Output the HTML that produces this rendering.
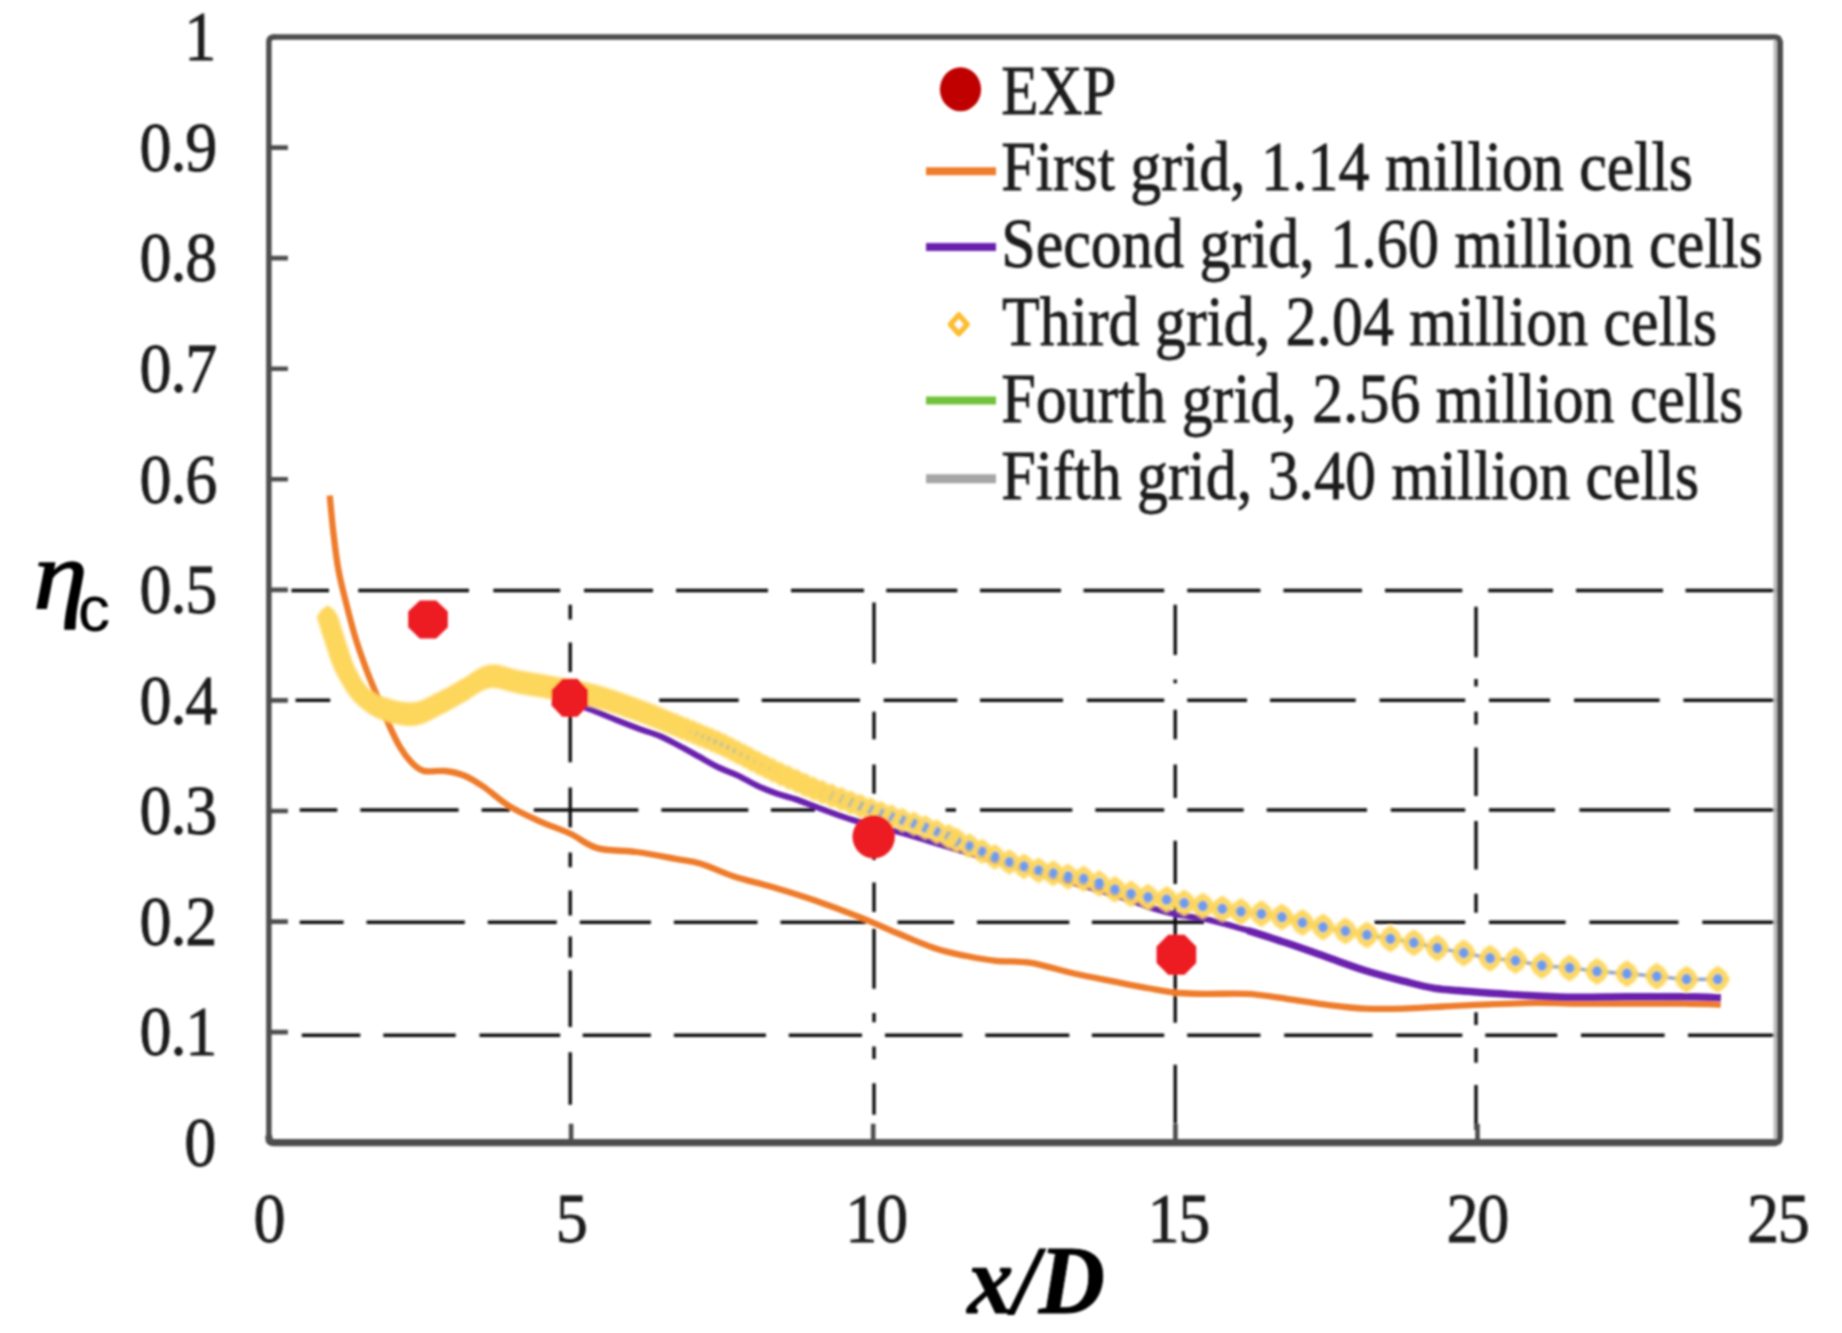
<!DOCTYPE html>
<html lang="en"><head><meta charset="utf-8"><title>Grid independence: cooling effectiveness</title>
<style>html,body{margin:0;padding:0;background:#fff}body{width:1842px;height:1333px;overflow:hidden}svg{display:block}text{font-family:"Liberation Serif","Times New Roman",serif;fill:#1c1c1c}.sans{font-family:"Liberation Sans",Arial,sans-serif}</style></head><body>
<svg width="1842" height="1333" viewBox="0 0 1842 1333">
<defs><filter id="soft" x="0" y="0" width="100%" height="100%" filterUnits="objectBoundingBox"><feGaussianBlur stdDeviation="1.25"/></filter><filter id="softer" x="-2%" y="-5%" width="104%" height="110%"><feGaussianBlur stdDeviation="1.3"/></filter></defs>
<rect width="1842" height="1333" fill="#fff"/>
<g filter="url(#soft)">
<g stroke="#0e0e0e" stroke-width="3.4" fill="none">
<path d="M291.4 590.5H329M358.2 590.5H469M493.3 590.5H560.2M584 590.5H653M676 590.5H768M791 590.5H864M886.2 590.5H957.3M980 590.5H1061M1083.5 590.5H1164.2M1187.2 590.5H1260.4M1283.4 590.5H1362M1385 590.5H1462.3M1488.2 590.5H1553M1576 590.5H1663M1685.5 590.5H1778"/>
<path d="M295.5 700.3H330.2M659.2 700.3H738.7M761.7 700.3H860M883.7 700.3H957.3M980 700.3H1063M1086.9 700.3H1164.2M1187.2 700.3H1247M1270 700.3H1355.7M1379.5 700.3H1465.2M1489 700.3H1550M1574 700.3H1659.6M1683.4 700.3H1778"/>
<path d="M299.7 810H337.3M360.3 810H458.6M481.6 810H510M533.8 810H638.3M661.3 810H748.3M770.9 810H815M945.6 810H956M980 810H1072.3M1095.3 810H1164.2M1187.2 810H1243.7M1266.7 810H1367M1390.8 810H1465.2M1489 810H1555M1579.4 810H1670M1694 810H1778"/>
<path d="M299.7 922.3H343.6M366.6 922.3H464.8M487.8 922.3H556.8M579.8 922.3H650.9M673.9 922.3H757.5M780.5 922.3H866M897.5 922.3H954M977 922.3H1069.3M1091.9 922.3H1204M1374.5 922.3H1465.2M1489 922.3H1565.6M1589.4 922.3H1678.4M1702.3 922.3H1778"/>
<path d="M301.8 1035.2H360.3M383.3 1035.2H455.7M479.5 1035.2H560.2M582.7 1035.2H650.9M673.9 1035.2H765.9M788.8 1035.2H862M885 1035.2H962.3M985.3 1035.2H1069.3M1091.9 1035.2H1164.2M1187.2 1035.2H1260.4M1284.2 1035.2H1372.4M1396.3 1035.2H1462.3M1485.3 1035.2H1557.2M1581 1035.2H1664.6M1688 1035.2H1778"/>
<path d="M570.2 604.7V619.4M570.2 642.5V672M570.2 700V762.3M570.2 787.5V827.4M570.2 852.6V867.3M570.2 890.4V915.6M570.2 936.6V957.6M570.2 970.3V1027M570.2 1052.2V1104.7"/>
<path d="M874 602.6V663.5M874 711.8V739.2M874 764.4V793.8M874 830V860M874 882.6V912M874 928.8V988.7M874 1012.9V1022.3M874 1046.5V1059M874 1083.2V1114.7"/>
<path d="M1175.2 604.7V655.1M1175.2 679.5V683.3M1175.2 709.7V739.2M1175.2 764.4V798M1175.2 840.8V884.1M1175.2 905V1022.8M1175.2 1064.8V1123.6"/>
<path d="M1476 606.8V657.2M1476 679V686.6M1476 711.8V724.5M1476 747.6V795.9M1476 821V869.4M1476 893.8V912.7M1476 1012.3V1024.9M1476 1048V1062.7M1476 1085V1130"/>
</g>
<g stroke="#4e4e4e" fill="none" stroke-linecap="round">
<path d="M1775.2 40V1139.7" stroke="#bcbcbc" stroke-width="3.4" stroke-linecap="butt"/>
<path d="M268.9 1137.7V42Q268.9 37 273.9 37" stroke-width="5.4"/>
<path d="M273.9 37H1774.7Q1779.7 37 1779.7 42" stroke-width="5.4"/>
<path d="M1780 42V1137.7Q1779.7 1142.7 1774.7 1142.7" stroke-width="6"/>
<path d="M1774.7 1142.7H273.9Q268.9 1142.7 268.9 1137.7" stroke-width="7.2"/>
<path d="M268.9 1032.1H287.9M268.9 921.6H287.9M268.9 811H287.9M268.9 700.4H287.9M268.9 589.9H287.9M268.9 479.3H287.9M268.9 368.7H287.9M268.9 258.1H287.9M268.9 147.6H287.9M571.1 1142.7V1123.7M873.2 1142.7V1123.7M1175.4 1142.7V1123.7M1477.5 1142.7V1123.7" stroke-width="4.6" stroke-linecap="butt"/>
</g>
<g fill="none" stroke-linecap="butt" stroke-linejoin="round">
<path d="M329.7 495.5C330.3 501.6 331.9 519.6 333.3 531.9C334.7 544.2 336.2 557.5 338.3 569.1C340.4 580.7 342.8 589.8 345.7 601.3C348.6 612.8 352.1 626.8 355.6 638.4C359.1 650 363.1 660.7 366.8 670.6C370.5 680.5 374.2 688.8 377.9 697.9C381.6 707 385.4 716.9 389.1 725.1C392.8 733.4 396.5 741.2 400.2 747.4C403.9 753.6 407.5 758.4 411.4 762.3C415.3 766.2 418.1 769.4 423.7 770.9C429.3 772.4 438.3 770.2 445 771C451.7 771.8 457.6 772.9 464 775.5C470.4 778.1 475.6 781.4 483.2 786.5C490.8 791.6 500.1 800.4 509.3 806.1C518.5 811.8 528.5 816.2 538.6 820.8C548.7 825.4 560.1 829 569.9 833.5C579.7 838 586.2 845 597.3 848.1C608.4 851.2 623.3 850.2 636.3 852C649.3 853.8 664.6 856.9 675.4 858.9C686.1 860.9 691 860.9 700.8 863.8C710.6 866.7 722 872.6 734 876.5C746 880.4 759.6 883.2 773.1 887.2C786.6 891.2 800.7 895.5 815 900.5C829.3 905.5 845.1 911.4 859 916.9C872.9 922.4 885.2 928.1 898.2 933.5C911.2 938.9 925.9 945.4 937.3 949.1C948.7 952.9 956.8 954 966.6 956C976.4 958 985.2 959.7 995.9 960.8C1006.6 961.9 1018 960.7 1031 962.8C1044 964.9 1060.3 970.4 1074 973.5C1087.7 976.6 1100.3 978.9 1113 981.4C1125.7 983.9 1139 986.6 1150 988.5C1161 990.4 1169.5 992.1 1179.3 993C1189.1 993.9 1197.2 993.8 1208.6 993.9C1220 994 1234.7 993.1 1247.7 993.9C1260.7 994.7 1273.8 997 1286.8 998.8C1299.8 1000.6 1312.9 1003.1 1325.9 1004.7C1338.9 1006.3 1352 1008 1365 1008.6C1378 1009.2 1391 1009 1404 1008.6C1417 1008.2 1428.9 1007.2 1443.1 1006.5C1457.3 1005.8 1473.2 1004.9 1489 1004.3C1504.8 1003.7 1521.7 1003 1538 1002.9C1554.3 1002.8 1568.9 1003.5 1586.8 1003.6C1604.7 1003.7 1629.1 1003.6 1645.4 1003.6C1661.7 1003.6 1672 1003.4 1684.5 1003.6C1697 1003.8 1714.7 1004.4 1720.7 1004.6" stroke="#ee7b2c" stroke-width="6.3"/>
<path d="M560 700C564.6 701.4 578 705 587.5 708.4C597 711.8 608 716.6 616.8 720.1C625.5 723.6 632.9 726.5 640 729.1C647.1 731.7 653.1 733.1 659.6 735.9C666.1 738.7 672.6 742.3 679.1 745.7C685.6 749.1 692.2 752.9 698.7 756.5C705.2 760.1 711.7 764 718.2 767.2C724.7 770.4 731.3 772.4 737.8 775.5C744.3 778.6 750.8 782.8 757.3 785.8C763.8 788.8 770.4 791.3 776.9 793.6C783.4 795.9 789.2 797 796.4 799.5C803.6 802 810.6 804.9 820 808.3C829.4 811.7 840 816.1 853 820C866 823.9 882.3 827.5 898 831.9C913.7 836.3 930.7 841.6 947 846.5C963.3 851.4 978 855.8 995.9 861C1013.8 866.2 1035 871.9 1054.5 877.5C1074 883.1 1096.8 889.4 1113 894.5C1129.2 899.6 1141.3 904.7 1152 908C1162.7 911.3 1167.6 912.5 1177 914.5C1186.4 916.5 1196.8 917.1 1208.6 919.7C1220.4 922.4 1234.7 926.5 1247.7 930.4C1260.7 934.3 1273.8 938.7 1286.8 943.1C1299.8 947.5 1312.9 952.2 1325.9 956.8C1338.9 961.4 1352 966.4 1365 970.5C1378 974.6 1392.6 978.3 1404 981.2C1415.4 984.1 1423.6 986.5 1433.4 988.1C1443.2 989.7 1450.1 990 1462.7 991C1475.3 992 1491.6 993.4 1509 994.4C1526.4 995.4 1547.8 996.8 1567.3 997.2C1586.8 997.6 1606.4 996.9 1625.9 996.8C1645.4 996.7 1668.7 996.6 1684.5 996.8C1700.3 997 1714.7 997.6 1720.7 997.8" stroke="#6b23ae" stroke-width="6.1"/>
<path d="M640 711C646.5 713.6 666.1 721.3 679.1 726.6C692.1 731.9 708.4 738.5 718.2 742.8C728 747.1 731.3 749.3 737.8 752.6C744.3 755.9 750.8 759.3 757.3 762.6C763.8 765.9 770.4 769.4 776.9 772.4C783.4 775.4 789.2 777.8 796.4 780.9C803.6 784 806.3 786 820 791.2C833.7 796.4 859.1 805.5 878.6 812.3C898.1 819.1 917.8 824.4 937.3 831.9C956.8 839.4 983.9 852.3 995.9 857.3C1007.9 862.3 1004.6 860.5 1009.3 862C1014 863.5 1019.1 865 1024 866.4C1028.9 867.8 1033.7 869.1 1038.6 870.3C1043.5 871.4 1048.4 872.2 1053.3 873.3C1058.2 874.4 1063 875.8 1068 876.7C1073 877.6 1078.4 877.6 1083.6 878.7C1088.8 879.8 1094 881.7 1099.2 883.5C1104.4 885.3 1109.6 887.7 1114.9 889.4C1120.2 891.1 1125.5 892.5 1131 893.8C1136.5 895.1 1142.1 896.2 1148 897.2C1153.9 898.2 1160.6 898.6 1166.6 899.6C1172.6 900.6 1178.2 902 1184.2 903.1C1190.2 904.2 1196.5 905 1202.8 906C1209.1 907 1215.9 908 1222.3 908.9C1228.7 909.8 1234.4 910.7 1240.9 911.5C1247.4 912.3 1254.6 912.9 1261.4 913.8C1268.2 914.7 1275.1 915.6 1281.9 917.1C1288.7 918.6 1295.6 920.9 1302.4 922.6C1309.2 924.3 1315.8 925.7 1323 927.1C1330.2 928.5 1338.1 929.7 1345.4 931C1352.7 932.3 1359.4 933.6 1366.9 934.9C1374.4 936.2 1382.6 937.5 1390.4 938.8C1398.2 940.1 1406 941.2 1413.8 942.7C1421.6 944.2 1429 946.3 1437.3 948C1445.6 949.7 1454.9 951.2 1463.7 952.9C1472.5 954.6 1481.5 956.9 1490.1 958.2C1498.7 959.5 1506.9 959.4 1515.5 960.6C1524.1 961.8 1532.9 964.3 1541.9 965.5C1550.9 966.7 1560.4 966.9 1569.6 967.9C1578.8 968.9 1587.5 970.4 1597 971.4C1606.5 972.4 1616.9 972.9 1626.9 973.7C1636.9 974.5 1646.9 975.4 1656.8 976.3C1666.7 977.2 1676.3 978.7 1686.5 979.2C1696.7 979.7 1712.5 979.2 1717.7 979.2" stroke="#8fa8d6" stroke-width="3.6"/>
<path d="M1247.7 930.4C1254.2 932.5 1273.8 938.7 1286.8 943.1C1299.8 947.5 1312.9 952.2 1325.9 956.8C1338.9 961.4 1352 966.4 1365 970.5C1378 974.6 1392.6 978.3 1404 981.2C1415.4 984.1 1423.6 986.5 1433.4 988.1C1443.2 989.7 1450.1 990 1462.7 991C1475.3 992 1491.6 993.4 1509 994.4C1526.4 995.4 1547.8 996.8 1567.3 997.2C1586.8 997.6 1606.4 996.9 1625.9 996.8C1645.4 996.7 1668.7 996.6 1684.5 996.8C1700.3 997 1714.7 997.6 1720.7 997.8" stroke="#6b23ae" stroke-width="7.4"/>
</g>
<g fill="#6a9af3"><ellipse cx="640" cy="711" rx="5.6" ry="5.9"/><ellipse cx="644.8" cy="712.8" rx="5.6" ry="5.9"/><ellipse cx="649.6" cy="714.6" rx="5.6" ry="5.9"/><ellipse cx="654.7" cy="716.6" rx="5.6" ry="5.9"/><ellipse cx="659.8" cy="718.7" rx="5.6" ry="5.9"/><ellipse cx="664.8" cy="720.7" rx="5.6" ry="5.9"/><ellipse cx="670.3" cy="723" rx="5.6" ry="5.9"/><ellipse cx="675.9" cy="725.3" rx="5.6" ry="5.9"/><ellipse cx="681.5" cy="727.6" rx="5.6" ry="5.9"/><ellipse cx="687.3" cy="729.9" rx="5.6" ry="5.9"/><ellipse cx="693.4" cy="732.4" rx="5.6" ry="5.9"/><ellipse cx="699.4" cy="734.9" rx="5.6" ry="5.9"/><ellipse cx="705.7" cy="737.5" rx="5.6" ry="5.9"/><ellipse cx="712" cy="740.1" rx="5.6" ry="5.9"/><ellipse cx="718.2" cy="742.8" rx="5.6" ry="5.9"/><ellipse cx="724.6" cy="745.8" rx="5.6" ry="5.9"/><ellipse cx="731" cy="749" rx="5.6" ry="5.9"/><ellipse cx="737.4" cy="752.4" rx="5.6" ry="5.9"/><ellipse cx="744.2" cy="755.8" rx="5.6" ry="5.9"/><ellipse cx="750.9" cy="759.4" rx="5.6" ry="5.9"/><ellipse cx="758.2" cy="763.1" rx="5.6" ry="5.9"/><ellipse cx="765.5" cy="766.8" rx="5.6" ry="5.9"/><ellipse cx="772.8" cy="770.4" rx="5.6" ry="5.9"/><ellipse cx="780.6" cy="774.1" rx="5.6" ry="5.9"/><ellipse cx="788.7" cy="777.6" rx="5.6" ry="5.9"/><ellipse cx="796.8" cy="781.1" rx="5.6" ry="5.9"/><ellipse cx="805.2" cy="785" rx="5.6" ry="5.9"/><ellipse cx="813.7" cy="788.7" rx="5.6" ry="5.9"/><ellipse cx="822.4" cy="792.1" rx="5.6" ry="5.9"/><ellipse cx="831.7" cy="795.6" rx="5.6" ry="5.9"/><ellipse cx="841.1" cy="799" rx="5.6" ry="5.9"/><ellipse cx="850.7" cy="802.5" rx="5.6" ry="5.9"/><ellipse cx="860.5" cy="806" rx="5.6" ry="5.9"/><ellipse cx="870.8" cy="809.6" rx="5.6" ry="5.9"/><ellipse cx="881" cy="813.1" rx="5.6" ry="5.9"/><ellipse cx="891.5" cy="816.6" rx="5.6" ry="5.9"/><ellipse cx="902.5" cy="820.1" rx="5.6" ry="5.9"/><ellipse cx="913.9" cy="823.7" rx="5.6" ry="5.9"/><ellipse cx="925.4" cy="827.6" rx="5.6" ry="5.9"/><ellipse cx="936.8" cy="831.7" rx="5.6" ry="5.9"/><ellipse cx="948.7" cy="836.5" rx="5.6" ry="5.9"/><ellipse cx="956.8" cy="840.4" rx="5.6" ry="5.9"/><ellipse cx="969.5" cy="845.9" rx="5.6" ry="5.9"/><ellipse cx="982.2" cy="851.4" rx="5.6" ry="5.9"/><ellipse cx="994.9" cy="856.9" rx="5.6" ry="5.9"/><ellipse cx="1009.3" cy="862" rx="5.6" ry="5.9"/><ellipse cx="1024" cy="866.4" rx="5.6" ry="5.9"/><ellipse cx="1038.6" cy="870.3" rx="5.6" ry="5.9"/><ellipse cx="1053.3" cy="873.3" rx="5.6" ry="5.9"/><ellipse cx="1068" cy="876.7" rx="5.6" ry="5.9"/><ellipse cx="1083.6" cy="878.7" rx="5.6" ry="5.9"/><ellipse cx="1099.2" cy="883.5" rx="5.6" ry="5.9"/><ellipse cx="1114.9" cy="889.4" rx="5.6" ry="5.9"/><ellipse cx="1131" cy="893.8" rx="5.6" ry="5.9"/><ellipse cx="1148" cy="897.2" rx="5.6" ry="5.9"/><ellipse cx="1166.6" cy="899.6" rx="5.6" ry="5.9"/><ellipse cx="1184.2" cy="903.1" rx="5.6" ry="5.9"/><ellipse cx="1202.8" cy="906" rx="5.6" ry="5.9"/><ellipse cx="1222.3" cy="908.9" rx="5.6" ry="5.9"/><ellipse cx="1240.9" cy="911.5" rx="5.6" ry="5.9"/><ellipse cx="1261.4" cy="913.8" rx="5.6" ry="5.9"/><ellipse cx="1281.9" cy="917.1" rx="5.6" ry="5.9"/><ellipse cx="1302.4" cy="922.6" rx="5.6" ry="5.9"/><ellipse cx="1323" cy="927.1" rx="5.6" ry="5.9"/><ellipse cx="1345.4" cy="931" rx="5.6" ry="5.9"/><ellipse cx="1366.9" cy="934.9" rx="5.6" ry="5.9"/><ellipse cx="1390.4" cy="938.8" rx="5.6" ry="5.9"/><ellipse cx="1413.8" cy="942.7" rx="5.6" ry="5.9"/><ellipse cx="1437.3" cy="948" rx="5.6" ry="5.9"/><ellipse cx="1463.7" cy="952.9" rx="5.6" ry="5.9"/><ellipse cx="1490.1" cy="958.2" rx="5.6" ry="5.9"/><ellipse cx="1515.5" cy="960.6" rx="5.6" ry="5.9"/><ellipse cx="1541.9" cy="965.5" rx="5.6" ry="5.9"/><ellipse cx="1569.6" cy="967.9" rx="5.6" ry="5.9"/><ellipse cx="1597" cy="971.4" rx="5.6" ry="5.9"/><ellipse cx="1626.9" cy="973.7" rx="5.6" ry="5.9"/><ellipse cx="1656.8" cy="976.3" rx="5.6" ry="5.9"/><ellipse cx="1686.5" cy="979.2" rx="5.6" ry="5.9"/><ellipse cx="1717.7" cy="979.2" rx="5.6" ry="5.9"/></g>
<path fill="#fdd65c" fill-rule="nonzero" filter="url(#softer)" d="M316.6 617.5l4.3 -7.2l6.7 -5.1l6.7 5.1l4.3 7.2l-4.3 7.2l-6.7 5.1l-6.7 -5.1zM317.5 620.3l4.3 -7.2l6.7 -5.1l6.7 5.1l4.3 7.2l-4.3 7.2l-6.7 5.1l-6.7 -5.1zM318.4 623.2l4.3 -7.2l6.7 -5.1l6.7 5.1l4.3 7.2l-4.3 7.2l-6.7 5.1l-6.7 -5.1zM319.3 626.1l4.3 -7.2l6.7 -5.1l6.7 5.1l4.3 7.2l-4.3 7.2l-6.7 5.1l-6.7 -5.1zM320.2 629.3l4.3 -7.2l6.7 -5.1l6.7 5.1l4.3 7.2l-4.3 7.2l-6.7 5.1l-6.7 -5.1zM321.1 632l4.3 -7.2l6.7 -5.1l6.7 5.1l4.3 7.2l-4.3 7.2l-6.7 5.1l-6.7 -5.1zM322 634.8l4.3 -7.2l6.7 -5.1l6.7 5.1l4.3 7.2l-4.3 7.2l-6.7 5.1l-6.7 -5.1zM322.9 637.6l4.3 -7.2l6.7 -5.1l6.7 5.1l4.3 7.2l-4.3 7.2l-6.7 5.1l-6.7 -5.1zM323.8 640.3l4.3 -7.2l6.7 -5.1l6.7 5.1l4.3 7.2l-4.3 7.2l-6.7 5.1l-6.7 -5.1zM324.8 643.4l4.3 -7.2l6.7 -5.1l6.7 5.1l4.3 7.2l-4.3 7.2l-6.7 5.1l-6.7 -5.1zM325.7 646.2l4.3 -7.2l6.7 -5.1l6.7 5.1l4.3 7.2l-4.3 7.2l-6.7 5.1l-6.7 -5.1zM326.7 649.1l4.3 -7.2l6.7 -5.1l6.7 5.1l4.3 7.2l-4.3 7.2l-6.7 5.1l-6.7 -5.1zM327.6 652l4.3 -7.2l6.7 -5.1l6.7 5.1l4.3 7.2l-4.3 7.2l-6.7 5.1l-6.7 -5.1zM328.5 654.9l4.3 -7.2l6.7 -5.1l6.7 5.1l4.3 7.2l-4.3 7.2l-6.7 5.1l-6.7 -5.1zM329.5 657.8l4.3 -7.2l6.7 -5.1l6.7 5.1l4.3 7.2l-4.3 7.2l-6.7 5.1l-6.7 -5.1zM330.5 660.7l4.3 -7.2l6.7 -5.1l6.7 5.1l4.3 7.2l-4.3 7.2l-6.7 5.1l-6.7 -5.1zM331.6 663.6l4.3 -7.2l6.7 -5.1l6.7 5.1l4.3 7.2l-4.3 7.2l-6.7 5.1l-6.7 -5.1zM332.8 666.4l4.3 -7.2l6.7 -5.1l6.7 5.1l4.3 7.2l-4.3 7.2l-6.7 5.1l-6.7 -5.1zM334 669.2l4.3 -7.2l6.7 -5.1l6.7 5.1l4.3 7.2l-4.3 7.2l-6.7 5.1l-6.7 -5.1zM335.4 671.9l4.3 -7.2l6.7 -5.1l6.7 5.1l4.3 7.2l-4.3 7.2l-6.7 5.1l-6.7 -5.1zM336.8 674.6l4.3 -7.2l6.7 -5.1l6.7 5.1l4.3 7.2l-4.3 7.2l-6.7 5.1l-6.7 -5.1zM338.2 677.3l4.3 -7.2l6.7 -5.1l6.7 5.1l4.3 7.2l-4.3 7.2l-6.7 5.1l-6.7 -5.1zM339.7 680.1l4.3 -7.2l6.7 -5.1l6.7 5.1l4.3 7.2l-4.3 7.2l-6.7 5.1l-6.7 -5.1zM341.3 682.7l4.3 -7.2l6.7 -5.1l6.7 5.1l4.3 7.2l-4.3 7.2l-6.7 5.1l-6.7 -5.1zM342.9 685.4l4.3 -7.2l6.7 -5.1l6.7 5.1l4.3 7.2l-4.3 7.2l-6.7 5.1l-6.7 -5.1zM344.6 687.9l4.3 -7.2l6.7 -5.1l6.7 5.1l4.3 7.2l-4.3 7.2l-6.7 5.1l-6.7 -5.1zM346.4 690.3l4.3 -7.2l6.7 -5.1l6.7 5.1l4.3 7.2l-4.3 7.2l-6.7 5.1l-6.7 -5.1zM348.3 692.6l4.3 -7.2l6.7 -5.1l6.7 5.1l4.3 7.2l-4.3 7.2l-6.7 5.1l-6.7 -5.1zM350.2 694.7l4.3 -7.2l6.7 -5.1l6.7 5.1l4.3 7.2l-4.3 7.2l-6.7 5.1l-6.7 -5.1zM352.3 696.8l4.3 -7.2l6.7 -5.1l6.7 5.1l4.3 7.2l-4.3 7.2l-6.7 5.1l-6.7 -5.1zM354.6 698.8l4.3 -7.2l6.7 -5.1l6.7 5.1l4.3 7.2l-4.3 7.2l-6.7 5.1l-6.7 -5.1zM357 700.7l4.3 -7.2l6.7 -5.1l6.7 5.1l4.3 7.2l-4.3 7.2l-6.7 5.1l-6.7 -5.1zM359.4 702.4l4.3 -7.2l6.7 -5.1l6.7 5.1l4.3 7.2l-4.3 7.2l-6.7 5.1l-6.7 -5.1zM362 703.9l4.3 -7.2l6.7 -5.1l6.7 5.1l4.3 7.2l-4.3 7.2l-6.7 5.1l-6.7 -5.1zM364.6 705.4l4.3 -7.2l6.7 -5.1l6.7 5.1l4.3 7.2l-4.3 7.2l-6.7 5.1l-6.7 -5.1zM367.3 706.7l4.3 -7.2l6.7 -5.1l6.7 5.1l4.3 7.2l-4.3 7.2l-6.7 5.1l-6.7 -5.1zM370.2 707.9l4.3 -7.2l6.7 -5.1l6.7 5.1l4.3 7.2l-4.3 7.2l-6.7 5.1l-6.7 -5.1zM373.1 709l4.3 -7.2l6.7 -5.1l6.7 5.1l4.3 7.2l-4.3 7.2l-6.7 5.1l-6.7 -5.1zM375.8 709.9l4.3 -7.2l6.7 -5.1l6.7 5.1l4.3 7.2l-4.3 7.2l-6.7 5.1l-6.7 -5.1zM378.6 710.8l4.3 -7.2l6.7 -5.1l6.7 5.1l4.3 7.2l-4.3 7.2l-6.7 5.1l-6.7 -5.1zM381.6 711.6l4.3 -7.2l6.7 -5.1l6.7 5.1l4.3 7.2l-4.3 7.2l-6.7 5.1l-6.7 -5.1zM384.7 712.3l4.3 -7.2l6.7 -5.1l6.7 5.1l4.3 7.2l-4.3 7.2l-6.7 5.1l-6.7 -5.1zM387.8 713l4.3 -7.2l6.7 -5.1l6.7 5.1l4.3 7.2l-4.3 7.2l-6.7 5.1l-6.7 -5.1zM390.9 713.5l4.3 -7.2l6.7 -5.1l6.7 5.1l4.3 7.2l-4.3 7.2l-6.7 5.1l-6.7 -5.1zM394 713.9l4.3 -7.2l6.7 -5.1l6.7 5.1l4.3 7.2l-4.3 7.2l-6.7 5.1l-6.7 -5.1zM397.1 714.1l4.3 -7.2l6.7 -5.1l6.7 5.1l4.3 7.2l-4.3 7.2l-6.7 5.1l-6.7 -5.1zM400 714.1l4.3 -7.2l6.7 -5.1l6.7 5.1l4.3 7.2l-4.3 7.2l-6.7 5.1l-6.7 -5.1zM402.8 714l4.3 -7.2l6.7 -5.1l6.7 5.1l4.3 7.2l-4.3 7.2l-6.7 5.1l-6.7 -5.1zM405.8 713.6l4.3 -7.2l6.7 -5.1l6.7 5.1l4.3 7.2l-4.3 7.2l-6.7 5.1l-6.7 -5.1zM408.7 712.8l4.3 -7.2l6.7 -5.1l6.7 5.1l4.3 7.2l-4.3 7.2l-6.7 5.1l-6.7 -5.1zM411.6 711.9l4.3 -7.2l6.7 -5.1l6.7 5.1l4.3 7.2l-4.3 7.2l-6.7 5.1l-6.7 -5.1zM414.4 710.7l4.3 -7.2l6.7 -5.1l6.7 5.1l4.3 7.2l-4.3 7.2l-6.7 5.1l-6.7 -5.1zM417.1 709.4l4.3 -7.2l6.7 -5.1l6.7 5.1l4.3 7.2l-4.3 7.2l-6.7 5.1l-6.7 -5.1zM419.8 708l4.3 -7.2l6.7 -5.1l6.7 5.1l4.3 7.2l-4.3 7.2l-6.7 5.1l-6.7 -5.1zM422.5 706.6l4.3 -7.2l6.7 -5.1l6.7 5.1l4.3 7.2l-4.3 7.2l-6.7 5.1l-6.7 -5.1zM425.3 705.1l4.3 -7.2l6.7 -5.1l6.7 5.1l4.3 7.2l-4.3 7.2l-6.7 5.1l-6.7 -5.1zM428 703.8l4.3 -7.2l6.7 -5.1l6.7 5.1l4.3 7.2l-4.3 7.2l-6.7 5.1l-6.7 -5.1zM430.7 702.5l4.3 -7.2l6.7 -5.1l6.7 5.1l4.3 7.2l-4.3 7.2l-6.7 5.1l-6.7 -5.1zM433.3 701.1l4.3 -7.2l6.7 -5.1l6.7 5.1l4.3 7.2l-4.3 7.2l-6.7 5.1l-6.7 -5.1zM436 699.7l4.3 -7.2l6.7 -5.1l6.7 5.1l4.3 7.2l-4.3 7.2l-6.7 5.1l-6.7 -5.1zM438.6 698.2l4.3 -7.2l6.7 -5.1l6.7 5.1l4.3 7.2l-4.3 7.2l-6.7 5.1l-6.7 -5.1zM441.2 696.7l4.3 -7.2l6.7 -5.1l6.7 5.1l4.3 7.2l-4.3 7.2l-6.7 5.1l-6.7 -5.1zM443.9 695.2l4.3 -7.2l6.7 -5.1l6.7 5.1l4.3 7.2l-4.3 7.2l-6.7 5.1l-6.7 -5.1zM446.6 693.7l4.3 -7.2l6.7 -5.1l6.7 5.1l4.3 7.2l-4.3 7.2l-6.7 5.1l-6.7 -5.1zM449.2 692.1l4.3 -7.2l6.7 -5.1l6.7 5.1l4.3 7.2l-4.3 7.2l-6.7 5.1l-6.7 -5.1zM451.9 690.6l4.3 -7.2l6.7 -5.1l6.7 5.1l4.3 7.2l-4.3 7.2l-6.7 5.1l-6.7 -5.1zM454.6 689.2l4.3 -7.2l6.7 -5.1l6.7 5.1l4.3 7.2l-4.3 7.2l-6.7 5.1l-6.7 -5.1zM457.1 687.6l4.3 -7.2l6.7 -5.1l6.7 5.1l4.3 7.2l-4.3 7.2l-6.7 5.1l-6.7 -5.1zM459.7 685.8l4.3 -7.2l6.7 -5.1l6.7 5.1l4.3 7.2l-4.3 7.2l-6.7 5.1l-6.7 -5.1zM462.3 684.1l4.3 -7.2l6.7 -5.1l6.7 5.1l4.3 7.2l-4.3 7.2l-6.7 5.1l-6.7 -5.1zM464.9 682.4l4.3 -7.2l6.7 -5.1l6.7 5.1l4.3 7.2l-4.3 7.2l-6.7 5.1l-6.7 -5.1zM467.6 680.8l4.3 -7.2l6.7 -5.1l6.7 5.1l4.3 7.2l-4.3 7.2l-6.7 5.1l-6.7 -5.1zM470.2 679.3l4.3 -7.2l6.7 -5.1l6.7 5.1l4.3 7.2l-4.3 7.2l-6.7 5.1l-6.7 -5.1zM472.9 678.1l4.3 -7.2l6.7 -5.1l6.7 5.1l4.3 7.2l-4.3 7.2l-6.7 5.1l-6.7 -5.1zM475.7 677.1l4.3 -7.2l6.7 -5.1l6.7 5.1l4.3 7.2l-4.3 7.2l-6.7 5.1l-6.7 -5.1zM478.5 676.5l4.3 -7.2l6.7 -5.1l6.7 5.1l4.3 7.2l-4.3 7.2l-6.7 5.1l-6.7 -5.1zM481.7 676.3l4.3 -7.2l6.7 -5.1l6.7 5.1l4.3 7.2l-4.3 7.2l-6.7 5.1l-6.7 -5.1zM485 676.4l4.3 -7.2l6.7 -5.1l6.7 5.1l4.3 7.2l-4.3 7.2l-6.7 5.1l-6.7 -5.1zM487.8 676.8l4.3 -7.2l6.7 -5.1l6.7 5.1l4.3 7.2l-4.3 7.2l-6.7 5.1l-6.7 -5.1zM490.6 677.5l4.3 -7.2l6.7 -5.1l6.7 5.1l4.3 7.2l-4.3 7.2l-6.7 5.1l-6.7 -5.1zM493.5 678.2l4.3 -7.2l6.7 -5.1l6.7 5.1l4.3 7.2l-4.3 7.2l-6.7 5.1l-6.7 -5.1zM496.4 679.1l4.3 -7.2l6.7 -5.1l6.7 5.1l4.3 7.2l-4.3 7.2l-6.7 5.1l-6.7 -5.1zM499.4 679.9l4.3 -7.2l6.7 -5.1l6.7 5.1l4.3 7.2l-4.3 7.2l-6.7 5.1l-6.7 -5.1zM502.6 680.8l4.3 -7.2l6.7 -5.1l6.7 5.1l4.3 7.2l-4.3 7.2l-6.7 5.1l-6.7 -5.1zM505.8 681.6l4.3 -7.2l6.7 -5.1l6.7 5.1l4.3 7.2l-4.3 7.2l-6.7 5.1l-6.7 -5.1zM509 682.2l4.3 -7.2l6.7 -5.1l6.7 5.1l4.3 7.2l-4.3 7.2l-6.7 5.1l-6.7 -5.1zM512.1 682.7l4.3 -7.2l6.7 -5.1l6.7 5.1l4.3 7.2l-4.3 7.2l-6.7 5.1l-6.7 -5.1zM514.9 683.2l4.3 -7.2l6.7 -5.1l6.7 5.1l4.3 7.2l-4.3 7.2l-6.7 5.1l-6.7 -5.1zM517.8 683.7l4.3 -7.2l6.7 -5.1l6.7 5.1l4.3 7.2l-4.3 7.2l-6.7 5.1l-6.7 -5.1zM520.8 684.2l4.3 -7.2l6.7 -5.1l6.7 5.1l4.3 7.2l-4.3 7.2l-6.7 5.1l-6.7 -5.1zM523.8 684.7l4.3 -7.2l6.7 -5.1l6.7 5.1l4.3 7.2l-4.3 7.2l-6.7 5.1l-6.7 -5.1zM526.8 685.3l4.3 -7.2l6.7 -5.1l6.7 5.1l4.3 7.2l-4.3 7.2l-6.7 5.1l-6.7 -5.1zM529.9 685.8l4.3 -7.2l6.7 -5.1l6.7 5.1l4.3 7.2l-4.3 7.2l-6.7 5.1l-6.7 -5.1zM533 686.3l4.3 -7.2l6.7 -5.1l6.7 5.1l4.3 7.2l-4.3 7.2l-6.7 5.1l-6.7 -5.1zM536 686.9l4.3 -7.2l6.7 -5.1l6.7 5.1l4.3 7.2l-4.3 7.2l-6.7 5.1l-6.7 -5.1zM539.1 687.4l4.3 -7.2l6.7 -5.1l6.7 5.1l4.3 7.2l-4.3 7.2l-6.7 5.1l-6.7 -5.1zM542.2 688l4.3 -7.2l6.7 -5.1l6.7 5.1l4.3 7.2l-4.3 7.2l-6.7 5.1l-6.7 -5.1zM545.2 688.5l4.3 -7.2l6.7 -5.1l6.7 5.1l4.3 7.2l-4.3 7.2l-6.7 5.1l-6.7 -5.1zM548.2 689.1l4.3 -7.2l6.7 -5.1l6.7 5.1l4.3 7.2l-4.3 7.2l-6.7 5.1l-6.7 -5.1zM551.1 689.6l4.3 -7.2l6.7 -5.1l6.7 5.1l4.3 7.2l-4.3 7.2l-6.7 5.1l-6.7 -5.1zM554.1 690.1l4.3 -7.2l6.7 -5.1l6.7 5.1l4.3 7.2l-4.3 7.2l-6.7 5.1l-6.7 -5.1zM557.5 690.7l4.3 -7.2l6.7 -5.1l6.7 5.1l4.3 7.2l-4.3 7.2l-6.7 5.1l-6.7 -5.1zM560.9 691.3l4.3 -7.2l6.7 -5.1l6.7 5.1l4.3 7.2l-4.3 7.2l-6.7 5.1l-6.7 -5.1zM564.3 691.9l4.3 -7.2l6.7 -5.1l6.7 5.1l4.3 7.2l-4.3 7.2l-6.7 5.1l-6.7 -5.1zM567.7 692.6l4.3 -7.2l6.7 -5.1l6.7 5.1l4.3 7.2l-4.3 7.2l-6.7 5.1l-6.7 -5.1zM571.2 693.2l4.3 -7.2l6.7 -5.1l6.7 5.1l4.3 7.2l-4.3 7.2l-6.7 5.1l-6.7 -5.1zM574.7 693.9l4.3 -7.2l6.7 -5.1l6.7 5.1l4.3 7.2l-4.3 7.2l-6.7 5.1l-6.7 -5.1zM578.1 694.7l4.3 -7.2l6.7 -5.1l6.7 5.1l4.3 7.2l-4.3 7.2l-6.7 5.1l-6.7 -5.1zM581.7 695.5l4.3 -7.2l6.7 -5.1l6.7 5.1l4.3 7.2l-4.3 7.2l-6.7 5.1l-6.7 -5.1zM585.8 696.6l4.3 -7.2l6.7 -5.1l6.7 5.1l4.3 7.2l-4.3 7.2l-6.7 5.1l-6.7 -5.1zM589.5 697.6l4.3 -7.2l6.7 -5.1l6.7 5.1l4.3 7.2l-4.3 7.2l-6.7 5.1l-6.7 -5.1zM593.7 698.8l4.3 -7.2l6.7 -5.1l6.7 5.1l4.3 7.2l-4.3 7.2l-6.7 5.1l-6.7 -5.1zM598 700.2l4.3 -7.2l6.7 -5.1l6.7 5.1l4.3 7.2l-4.3 7.2l-6.7 5.1l-6.7 -5.1zM602.3 701.6l4.3 -7.2l6.7 -5.1l6.7 5.1l4.3 7.2l-4.3 7.2l-6.7 5.1l-6.7 -5.1zM606.7 703l4.3 -7.2l6.7 -5.1l6.7 5.1l4.3 7.2l-4.3 7.2l-6.7 5.1l-6.7 -5.1zM611 704.5l4.3 -7.2l6.7 -5.1l6.7 5.1l4.3 7.2l-4.3 7.2l-6.7 5.1l-6.7 -5.1zM615.4 706.1l4.3 -7.2l6.7 -5.1l6.7 5.1l4.3 7.2l-4.3 7.2l-6.7 5.1l-6.7 -5.1zM619.7 707.6l4.3 -7.2l6.7 -5.1l6.7 5.1l4.3 7.2l-4.3 7.2l-6.7 5.1l-6.7 -5.1zM624.4 709.3l4.3 -7.2l6.7 -5.1l6.7 5.1l4.3 7.2l-4.3 7.2l-6.7 5.1l-6.7 -5.1zM629 711l4.3 -7.2l6.7 -5.1l6.7 5.1l4.3 7.2l-4.3 7.2l-6.7 5.1l-6.7 -5.1zM635.7 711a4.3 5 0 1 0 8.6 0a4.3 5 0 1 0 -8.6 0zM633.8 712.8l4.3 -7.2l6.7 -5.1l6.7 5.1l4.3 7.2l-4.3 7.2l-6.7 5.1l-6.7 -5.1zM640.5 712.8a4.3 5 0 1 0 8.6 0a4.3 5 0 1 0 -8.6 0zM638.6 714.6l4.3 -7.2l6.7 -5.1l6.7 5.1l4.3 7.2l-4.3 7.2l-6.7 5.1l-6.7 -5.1zM645.3 714.6a4.3 5 0 1 0 8.6 0a4.3 5 0 1 0 -8.6 0zM643.7 716.6l4.3 -7.2l6.7 -5.1l6.7 5.1l4.3 7.2l-4.3 7.2l-6.7 5.1l-6.7 -5.1zM650.4 716.6a4.3 5 0 1 0 8.6 0a4.3 5 0 1 0 -8.6 0zM648.8 718.7l4.3 -7.2l6.7 -5.1l6.7 5.1l4.3 7.2l-4.3 7.2l-6.7 5.1l-6.7 -5.1zM655.5 718.7a4.3 5 0 1 0 8.6 0a4.3 5 0 1 0 -8.6 0zM653.8 720.7l4.3 -7.2l6.7 -5.1l6.7 5.1l4.3 7.2l-4.3 7.2l-6.7 5.1l-6.7 -5.1zM660.5 720.7a4.3 5 0 1 0 8.6 0a4.3 5 0 1 0 -8.6 0zM659.3 723l4.3 -7.2l6.7 -5.1l6.7 5.1l4.3 7.2l-4.3 7.2l-6.7 5.1l-6.7 -5.1zM666 723a4.3 5 0 1 0 8.6 0a4.3 5 0 1 0 -8.6 0zM664.9 725.3l4.3 -7.2l6.7 -5.1l6.7 5.1l4.3 7.2l-4.3 7.2l-6.7 5.1l-6.7 -5.1zM671.6 725.3a4.3 5 0 1 0 8.6 0a4.3 5 0 1 0 -8.6 0zM670.5 727.6l4.3 -7.2l6.7 -5.1l6.7 5.1l4.3 7.2l-4.3 7.2l-6.7 5.1l-6.7 -5.1zM677.2 727.6a4.3 5 0 1 0 8.6 0a4.3 5 0 1 0 -8.6 0zM676.3 729.9l4.3 -7.2l6.7 -5.1l6.7 5.1l4.3 7.2l-4.3 7.2l-6.7 5.1l-6.7 -5.1zM683 729.9a4.3 5 0 1 0 8.6 0a4.3 5 0 1 0 -8.6 0zM682.4 732.4l4.3 -7.2l6.7 -5.1l6.7 5.1l4.3 7.2l-4.3 7.2l-6.7 5.1l-6.7 -5.1zM689.1 732.4a4.3 5 0 1 0 8.6 0a4.3 5 0 1 0 -8.6 0zM688.4 734.9l4.3 -7.2l6.7 -5.1l6.7 5.1l4.3 7.2l-4.3 7.2l-6.7 5.1l-6.7 -5.1zM695.1 734.9a4.3 5 0 1 0 8.6 0a4.3 5 0 1 0 -8.6 0zM694.7 737.5l4.3 -7.2l6.7 -5.1l6.7 5.1l4.3 7.2l-4.3 7.2l-6.7 5.1l-6.7 -5.1zM701.4 737.5a4.3 5 0 1 0 8.6 0a4.3 5 0 1 0 -8.6 0zM701 740.1l4.3 -7.2l6.7 -5.1l6.7 5.1l4.3 7.2l-4.3 7.2l-6.7 5.1l-6.7 -5.1zM707.7 740.1a4.3 5 0 1 0 8.6 0a4.3 5 0 1 0 -8.6 0zM707.2 742.8l4.3 -7.2l6.7 -5.1l6.7 5.1l4.3 7.2l-4.3 7.2l-6.7 5.1l-6.7 -5.1zM713.9 742.8a4.3 5 0 1 0 8.6 0a4.3 5 0 1 0 -8.6 0zM713.6 745.8l4.3 -7.2l6.7 -5.1l6.7 5.1l4.3 7.2l-4.3 7.2l-6.7 5.1l-6.7 -5.1zM720.3 745.8a4.3 5 0 1 0 8.6 0a4.3 5 0 1 0 -8.6 0zM720 749l4.3 -7.2l6.7 -5.1l6.7 5.1l4.3 7.2l-4.3 7.2l-6.7 5.1l-6.7 -5.1zM726.7 749a4.3 5 0 1 0 8.6 0a4.3 5 0 1 0 -8.6 0zM726.4 752.4l4.3 -7.2l6.7 -5.1l6.7 5.1l4.3 7.2l-4.3 7.2l-6.7 5.1l-6.7 -5.1zM733.1 752.4a4.3 5 0 1 0 8.6 0a4.3 5 0 1 0 -8.6 0zM733.2 755.8l4.3 -7.2l6.7 -5.1l6.7 5.1l4.3 7.2l-4.3 7.2l-6.7 5.1l-6.7 -5.1zM739.9 755.8a4.3 5 0 1 0 8.6 0a4.3 5 0 1 0 -8.6 0zM739.9 759.4l4.3 -7.2l6.7 -5.1l6.7 5.1l4.3 7.2l-4.3 7.2l-6.7 5.1l-6.7 -5.1zM746.6 759.4a4.3 5 0 1 0 8.6 0a4.3 5 0 1 0 -8.6 0zM747.2 763.1l4.3 -7.2l6.7 -5.1l6.7 5.1l4.3 7.2l-4.3 7.2l-6.7 5.1l-6.7 -5.1zM753.9 763.1a4.3 5 0 1 0 8.6 0a4.3 5 0 1 0 -8.6 0zM754.5 766.8l4.3 -7.2l6.7 -5.1l6.7 5.1l4.3 7.2l-4.3 7.2l-6.7 5.1l-6.7 -5.1zM761.2 766.8a4.3 5 0 1 0 8.6 0a4.3 5 0 1 0 -8.6 0zM761.8 770.4l4.3 -7.2l6.7 -5.1l6.7 5.1l4.3 7.2l-4.3 7.2l-6.7 5.1l-6.7 -5.1zM768.5 770.4a4.3 5 0 1 0 8.6 0a4.3 5 0 1 0 -8.6 0zM769.6 774.1l4.3 -7.2l6.7 -5.1l6.7 5.1l4.3 7.2l-4.3 7.2l-6.7 5.1l-6.7 -5.1zM776.3 774.1a4.3 5 0 1 0 8.6 0a4.3 5 0 1 0 -8.6 0zM777.7 777.6l4.3 -7.2l6.7 -5.1l6.7 5.1l4.3 7.2l-4.3 7.2l-6.7 5.1l-6.7 -5.1zM784.4 777.6a4.3 5 0 1 0 8.6 0a4.3 5 0 1 0 -8.6 0zM785.8 781.1l4.3 -7.2l6.7 -5.1l6.7 5.1l4.3 7.2l-4.3 7.2l-6.7 5.1l-6.7 -5.1zM792.5 781.1a4.3 5 0 1 0 8.6 0a4.3 5 0 1 0 -8.6 0zM794.2 785l4.3 -7.2l6.7 -5.1l6.7 5.1l4.3 7.2l-4.3 7.2l-6.7 5.1l-6.7 -5.1zM800.9 785a4.3 5 0 1 0 8.6 0a4.3 5 0 1 0 -8.6 0zM802.7 788.7l4.3 -7.2l6.7 -5.1l6.7 5.1l4.3 7.2l-4.3 7.2l-6.7 5.1l-6.7 -5.1zM809.4 788.7a4.3 5 0 1 0 8.6 0a4.3 5 0 1 0 -8.6 0zM811.4 792.1l4.3 -7.2l6.7 -5.1l6.7 5.1l4.3 7.2l-4.3 7.2l-6.7 5.1l-6.7 -5.1zM818.1 792.1a4.3 5 0 1 0 8.6 0a4.3 5 0 1 0 -8.6 0zM820.7 795.6l4.3 -7.2l6.7 -5.1l6.7 5.1l4.3 7.2l-4.3 7.2l-6.7 5.1l-6.7 -5.1zM827.4 795.6a4.3 5 0 1 0 8.6 0a4.3 5 0 1 0 -8.6 0zM830.1 799l4.3 -7.2l6.7 -5.1l6.7 5.1l4.3 7.2l-4.3 7.2l-6.7 5.1l-6.7 -5.1zM836.8 799a4.3 5 0 1 0 8.6 0a4.3 5 0 1 0 -8.6 0zM839.7 802.5l4.3 -7.2l6.7 -5.1l6.7 5.1l4.3 7.2l-4.3 7.2l-6.7 5.1l-6.7 -5.1zM846.4 802.5a4.3 5 0 1 0 8.6 0a4.3 5 0 1 0 -8.6 0zM849.5 806l4.3 -7.2l6.7 -5.1l6.7 5.1l4.3 7.2l-4.3 7.2l-6.7 5.1l-6.7 -5.1zM856.2 806a4.3 5 0 1 0 8.6 0a4.3 5 0 1 0 -8.6 0zM859.8 809.6l4.3 -7.2l6.7 -5.1l6.7 5.1l4.3 7.2l-4.3 7.2l-6.7 5.1l-6.7 -5.1zM866.5 809.6a4.3 5 0 1 0 8.6 0a4.3 5 0 1 0 -8.6 0zM870 813.1l4.3 -7.2l6.7 -5.1l6.7 5.1l4.3 7.2l-4.3 7.2l-6.7 5.1l-6.7 -5.1zM876.7 813.1a4.3 5 0 1 0 8.6 0a4.3 5 0 1 0 -8.6 0zM880.5 816.6l4.3 -7.2l6.7 -5.1l6.7 5.1l4.3 7.2l-4.3 7.2l-6.7 5.1l-6.7 -5.1zM887.2 816.6a4.3 5 0 1 0 8.6 0a4.3 5 0 1 0 -8.6 0zM891.4 820.1l4.3 -7.2l6.7 -5.1l6.7 5.1l4.3 7.2l-4.3 7.2l-6.7 5.1l-6.7 -5.1zM898.2 820.1a4.3 5 0 1 0 8.6 0a4.3 5 0 1 0 -8.6 0zM902.8 823.7l4.3 -7.2l6.8 -5.1l6.8 5.1l4.3 7.2l-4.3 7.2l-6.8 5.1l-6.8 -5.1zM909.6 823.7a4.3 5 0 1 0 8.7 0a4.3 5 0 1 0 -8.7 0zM914.2 827.6l4.3 -7.3l6.8 -5.1l6.8 5.1l4.3 7.3l-4.3 7.3l-6.8 5.1l-6.8 -5.1zM921 827.6a4.4 5.1 0 1 0 8.7 0a4.4 5.1 0 1 0 -8.7 0zM925.6 831.7l4.4 -7.3l6.8 -5.2l6.8 5.2l4.4 7.3l-4.4 7.3l-6.8 5.2l-6.8 -5.2zM932.4 831.7a4.4 5.1 0 1 0 8.8 0a4.4 5.1 0 1 0 -8.8 0zM937.5 836.5l4.4 -7.4l6.9 -5.2l6.9 5.2l4.4 7.4l-4.4 7.4l-6.9 5.2l-6.9 -5.2zM944.3 836.5a4.4 5.1 0 1 0 8.9 0a4.4 5.1 0 1 0 -8.9 0zM945.5 840.4l4.4 -7.4l6.9 -5.2l6.9 5.2l4.4 7.4l-4.4 7.4l-6.9 5.2l-6.9 -5.2zM952.3 840.4a4.5 5.1 0 1 0 8.9 0a4.5 5.1 0 1 0 -8.9 0zM958.1 845.9l4.4 -7.4l7 -5.2l7 5.2l4.4 7.4l-4.4 7.4l-7 5.2l-7 -5.2zM965 845.9a4.5 5.2 0 1 0 9 0a4.5 5.2 0 1 0 -9 0zM970.8 851.4l4.4 -7.5l7 -5.2l7 5.2l4.4 7.5l-4.4 7.5l-7 5.2l-7 -5.2zM977.7 851.4a4.5 5.2 0 1 0 9.1 0a4.5 5.2 0 1 0 -9.1 0zM983.4 856.9l4.5 -7.5l7 -5.3l7 5.3l4.5 7.5l-4.5 7.5l-7 5.3l-7 -5.3zM990.3 856.9a4.6 5.2 0 1 0 9.1 0a4.6 5.2 0 1 0 -9.1 0zM997.7 862l4.5 -7.5l7.1 -5.3l7.1 5.3l4.5 7.5l-4.5 7.5l-7.1 5.3l-7.1 -5.3zM1004.7 862a4.6 5.3 0 1 0 9.2 0a4.6 5.3 0 1 0 -9.2 0zM1012.4 866.4l4.5 -7.6l7.1 -5.3l7.1 5.3l4.5 7.6l-4.5 7.6l-7.1 5.3l-7.1 -5.3zM1019.4 866.4a4.6 5.3 0 1 0 9.3 0a4.6 5.3 0 1 0 -9.3 0zM1026.9 870.3l4.5 -7.6l7.2 -5.3l7.2 5.3l4.5 7.6l-4.5 7.6l-7.2 5.3l-7.2 -5.3zM1033.9 870.3a4.7 5.3 0 1 0 9.4 0a4.7 5.3 0 1 0 -9.4 0zM1041.5 873.3l4.5 -7.7l7.3 -5.3l7.3 5.3l4.5 7.7l-4.5 7.7l-7.3 5.3l-7.3 -5.3zM1048.6 873.3a4.7 5.4 0 1 0 9.5 0a4.7 5.4 0 1 0 -9.5 0zM1056.1 876.7l4.6 -7.7l7.3 -5.4l7.3 5.4l4.6 7.7l-4.6 7.7l-7.3 5.4l-7.3 -5.4zM1063.2 876.7a4.8 5.4 0 1 0 9.5 0a4.8 5.4 0 1 0 -9.5 0zM1071.6 878.7l4.6 -7.8l7.4 -5.4l7.4 5.4l4.6 7.8l-4.6 7.8l-7.4 5.4l-7.4 -5.4zM1078.8 878.7a4.8 5.4 0 1 0 9.6 0a4.8 5.4 0 1 0 -9.6 0zM1087.2 883.5l4.6 -7.8l7.4 -5.4l7.4 5.4l4.6 7.8l-4.6 7.8l-7.4 5.4l-7.4 -5.4zM1094.3 883.5a4.9 5.5 0 1 0 9.7 0a4.9 5.5 0 1 0 -9.7 0zM1102.8 889.4l4.6 -7.9l7.5 -5.4l7.5 5.4l4.6 7.9l-4.6 7.9l-7.5 5.4l-7.5 -5.4zM1110 889.4a4.9 5.5 0 1 0 9.8 0a4.9 5.5 0 1 0 -9.8 0zM1118.8 893.8l4.7 -7.9l7.5 -5.5l7.5 5.5l4.7 7.9l-4.7 7.9l-7.5 5.5l-7.5 -5.5zM1126.1 893.8a4.9 5.6 0 1 0 9.9 0a4.9 5.6 0 1 0 -9.9 0zM1135.7 897.2l4.7 -8l7.6 -5.5l7.6 5.5l4.7 8l-4.7 8l-7.6 5.5l-7.6 -5.5zM1143 897.2a5 5.6 0 1 0 10 0a5 5.6 0 1 0 -10 0zM1154.3 899.6l4.7 -8l7.6 -5.5l7.6 5.5l4.7 8l-4.7 8l-7.6 5.5l-7.6 -5.5zM1161.6 899.6a5 5.6 0 1 0 10 0a5 5.6 0 1 0 -10 0zM1171.9 903.1l4.7 -8l7.6 -5.5l7.6 5.5l4.7 8l-4.7 8l-7.6 5.5l-7.6 -5.5zM1179.2 903.1a5 5.6 0 1 0 10 0a5 5.6 0 1 0 -10 0zM1190.5 906l4.7 -8l7.6 -5.5l7.6 5.5l4.7 8l-4.7 8l-7.6 5.5l-7.6 -5.5zM1197.8 906a5 5.6 0 1 0 10 0a5 5.6 0 1 0 -10 0zM1210 908.9l4.7 -8l7.6 -5.5l7.6 5.5l4.7 8l-4.7 8l-7.6 5.5l-7.6 -5.5zM1217.3 908.9a5 5.6 0 1 0 10 0a5 5.6 0 1 0 -10 0zM1228.6 911.5l4.7 -8l7.6 -5.5l7.6 5.5l4.7 8l-4.7 8l-7.6 5.5l-7.6 -5.5zM1235.9 911.5a5 5.6 0 1 0 10 0a5 5.6 0 1 0 -10 0zM1249.1 913.8l4.7 -8l7.6 -5.5l7.6 5.5l4.7 8l-4.7 8l-7.6 5.5l-7.6 -5.5zM1256.4 913.8a5 5.6 0 1 0 10 0a5 5.6 0 1 0 -10 0zM1269.6 917.1l4.7 -8l7.6 -5.5l7.6 5.5l4.7 8l-4.7 8l-7.6 5.5l-7.6 -5.5zM1276.9 917.1a5 5.6 0 1 0 10 0a5 5.6 0 1 0 -10 0zM1290.1 922.6l4.7 -8l7.6 -5.5l7.6 5.5l4.7 8l-4.7 8l-7.6 5.5l-7.6 -5.5zM1297.4 922.6a5 5.6 0 1 0 10 0a5 5.6 0 1 0 -10 0zM1310.7 927.1l4.7 -8l7.6 -5.5l7.6 5.5l4.7 8l-4.7 8l-7.6 5.5l-7.6 -5.5zM1318 927.1a5 5.6 0 1 0 10 0a5 5.6 0 1 0 -10 0zM1333.1 931l4.7 -8l7.6 -5.5l7.6 5.5l4.7 8l-4.7 8l-7.6 5.5l-7.6 -5.5zM1340.4 931a5 5.6 0 1 0 10 0a5 5.6 0 1 0 -10 0zM1354.6 934.9l4.7 -8l7.6 -5.5l7.6 5.5l4.7 8l-4.7 8l-7.6 5.5l-7.6 -5.5zM1361.9 934.9a5 5.6 0 1 0 10 0a5 5.6 0 1 0 -10 0zM1378.1 938.8l4.7 -8l7.6 -5.5l7.6 5.5l4.7 8l-4.7 8l-7.6 5.5l-7.6 -5.5zM1385.4 938.8a5 5.6 0 1 0 10 0a5 5.6 0 1 0 -10 0zM1401.5 942.7l4.7 -8l7.6 -5.5l7.6 5.5l4.7 8l-4.7 8l-7.6 5.5l-7.6 -5.5zM1408.8 942.7a5 5.6 0 1 0 10 0a5 5.6 0 1 0 -10 0zM1425 948l4.7 -8l7.6 -5.5l7.6 5.5l4.7 8l-4.7 8l-7.6 5.5l-7.6 -5.5zM1432.3 948a5 5.6 0 1 0 10 0a5 5.6 0 1 0 -10 0zM1451.4 952.9l4.7 -8l7.6 -5.5l7.6 5.5l4.7 8l-4.7 8l-7.6 5.5l-7.6 -5.5zM1458.7 952.9a5 5.6 0 1 0 10 0a5 5.6 0 1 0 -10 0zM1477.8 958.2l4.7 -8l7.6 -5.5l7.6 5.5l4.7 8l-4.7 8l-7.6 5.5l-7.6 -5.5zM1485.1 958.2a5 5.6 0 1 0 10 0a5 5.6 0 1 0 -10 0zM1503.2 960.6l4.7 -8l7.6 -5.5l7.6 5.5l4.7 8l-4.7 8l-7.6 5.5l-7.6 -5.5zM1510.5 960.6a5 5.6 0 1 0 10 0a5 5.6 0 1 0 -10 0zM1529.6 965.5l4.7 -8l7.6 -5.5l7.6 5.5l4.7 8l-4.7 8l-7.6 5.5l-7.6 -5.5zM1536.9 965.5a5 5.6 0 1 0 10 0a5 5.6 0 1 0 -10 0zM1557.3 967.9l4.7 -8l7.6 -5.5l7.6 5.5l4.7 8l-4.7 8l-7.6 5.5l-7.6 -5.5zM1564.6 967.9a5 5.6 0 1 0 10 0a5 5.6 0 1 0 -10 0zM1584.7 971.4l4.7 -8l7.6 -5.5l7.6 5.5l4.7 8l-4.7 8l-7.6 5.5l-7.6 -5.5zM1592 971.4a5 5.6 0 1 0 10 0a5 5.6 0 1 0 -10 0zM1614.6 973.7l4.7 -8l7.6 -5.5l7.6 5.5l4.7 8l-4.7 8l-7.6 5.5l-7.6 -5.5zM1621.9 973.7a5 5.6 0 1 0 10 0a5 5.6 0 1 0 -10 0zM1644.5 976.3l4.7 -8l7.6 -5.5l7.6 5.5l4.7 8l-4.7 8l-7.6 5.5l-7.6 -5.5zM1651.8 976.3a5 5.6 0 1 0 10 0a5 5.6 0 1 0 -10 0zM1674.2 979.2l4.7 -8l7.6 -5.5l7.6 5.5l4.7 8l-4.7 8l-7.6 5.5l-7.6 -5.5zM1681.5 979.2a5 5.6 0 1 0 10 0a5 5.6 0 1 0 -10 0zM1705.4 979.2l4.7 -8l7.6 -5.5l7.6 5.5l4.7 8l-4.7 8l-7.6 5.5l-7.6 -5.5zM1712.7 979.2a5 5.6 0 1 0 10 0a5 5.6 0 1 0 -10 0z"/>
<g fill="#ec1c24">
<polygon points="419.8,600.4 436.2,600.4 447.8,611.5 447.8,627.3 436.2,638.4 419.8,638.4 408.2,627.3 408.2,611.5"/>
<polygon points="562.3,678.7 577.5,678.7 588.1,689.8 588.1,705.6 577.5,716.7 562.3,716.7 551.6,705.6 551.6,689.8"/>
<ellipse cx="873.7" cy="836.7" rx="21.2" ry="21.6"/>
<polygon points="1168.2,934.8 1184.6,934.8 1196.2,946.5 1196.2,963.1 1184.6,974.8 1168.2,974.8 1156.6,963.1 1156.6,946.5"/>
</g>
<g>
<ellipse cx="960.5" cy="89.3" rx="20.6" ry="22" fill="#c00000"/>
<path d="M926 171.3H996" stroke="#ee7b2c" stroke-width="8" fill="none"/>
<path d="M926 247H996" stroke="#6b23ae" stroke-width="8" fill="none"/>
<path d="M950.5 324.3L958.8 315L967.1 324.3L958.8 333.6Z" stroke="#fcbd2e" stroke-width="5.6" stroke-linejoin="round" fill="#fff"/>
<path d="M926 400.5H996" stroke="#70c13c" stroke-width="8" fill="none"/>
<path d="M926 478.8H996" stroke="#a6a6a6" stroke-width="9" fill="none"/>
</g>
<g stroke="#1c1c1c" stroke-width="0.85">
<text x="1001.3" y="114.3" font-size="70" textLength="115" lengthAdjust="spacingAndGlyphs">EXP</text>
<text x="1001.3" y="190.3" font-size="70" textLength="691.5" lengthAdjust="spacingAndGlyphs">First grid, 1.14 million cells</text>
<text x="1001.3" y="266.5" font-size="70" textLength="761.5" lengthAdjust="spacingAndGlyphs">Second grid, 1.60 million cells</text>
<text x="1002" y="345.3" font-size="70" textLength="715" lengthAdjust="spacingAndGlyphs">Third grid, 2.04 million cells</text>
<text x="1001.3" y="422" font-size="70" textLength="742" lengthAdjust="spacingAndGlyphs">Fourth grid, 2.56 million cells</text>
<text x="1001.3" y="498.5" font-size="70" textLength="697.7" lengthAdjust="spacingAndGlyphs">Fifth grid, 3.40 million cells</text>
<text transform="translate(216.3 1166) scale(0.91 1)" font-size="70.5" text-anchor="end">0</text>
<text transform="translate(216.3 1055.4) scale(0.91 1)" font-size="70.5" text-anchor="end" letter-spacing="-1.2">0.1</text>
<text transform="translate(216.3 944.9) scale(0.91 1)" font-size="70.5" text-anchor="end" letter-spacing="-1.2">0.2</text>
<text transform="translate(216.3 834.3) scale(0.91 1)" font-size="70.5" text-anchor="end" letter-spacing="-1.2">0.3</text>
<text transform="translate(216.3 723.7) scale(0.91 1)" font-size="70.5" text-anchor="end" letter-spacing="-1.2">0.4</text>
<text transform="translate(216.3 613.1) scale(0.91 1)" font-size="70.5" text-anchor="end" letter-spacing="-1.2">0.5</text>
<text transform="translate(216.3 502.6) scale(0.91 1)" font-size="70.5" text-anchor="end" letter-spacing="-1.2">0.6</text>
<text transform="translate(216.3 392) scale(0.91 1)" font-size="70.5" text-anchor="end" letter-spacing="-1.2">0.7</text>
<text transform="translate(216.3 281.4) scale(0.91 1)" font-size="70.5" text-anchor="end" letter-spacing="-1.2">0.8</text>
<text transform="translate(216.3 170.9) scale(0.91 1)" font-size="70.5" text-anchor="end" letter-spacing="-1.2">0.9</text>
<text transform="translate(216.3 60.3) scale(0.91 1)" font-size="70.5" text-anchor="end">1</text>
<text transform="translate(269.6 1242) scale(0.91 1)" font-size="70.5" text-anchor="middle">0</text>
<text transform="translate(571.8 1242) scale(0.91 1)" font-size="70.5" text-anchor="middle">5</text>
<text transform="translate(876 1242) scale(0.91 1)" font-size="70.5" text-anchor="middle" letter-spacing="-1.5">10</text>
<text transform="translate(1178.2 1242) scale(0.91 1)" font-size="70.5" text-anchor="middle" letter-spacing="-1.5">15</text>
<text transform="translate(1477.3 1242) scale(0.91 1)" font-size="70.5" text-anchor="middle" letter-spacing="-1.5">20</text>
<text transform="translate(1777.7 1242) scale(0.91 1)" font-size="70.5" text-anchor="middle" letter-spacing="-1.5">25</text>
</g>
<text transform="translate(967.5 1312.9) scale(0.935 1)" font-size="98" font-style="italic" font-weight="bold" style="fill:#000" stroke="#000" stroke-width="1">x/D</text>
<text transform="translate(33.5 607.8) scale(1.12 1)" font-size="97" font-style="italic" style="fill:#000" stroke="#000" stroke-width="1.6">η</text>
<text class="sans" x="78" y="631" font-size="64" style="fill:#000" stroke="#000" stroke-width="0.2">c</text>
</g>
</svg></body></html>
